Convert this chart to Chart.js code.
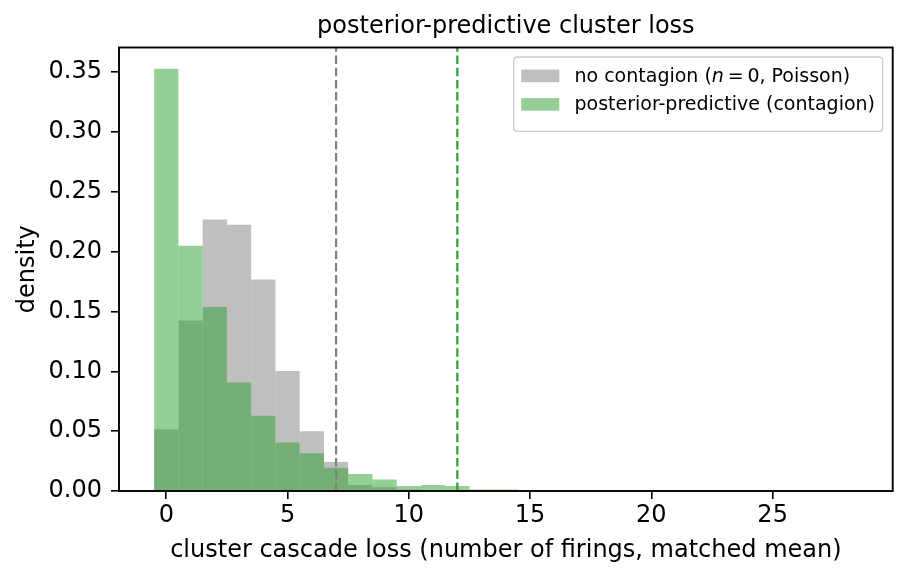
<!DOCTYPE html>
<html>
<head>
<meta charset="utf-8">
<script src="https://cdn.jsdelivr.net/npm/chart.js@4.4.1/dist/chart.umd.min.js"></script>
<style>
  html, body { margin: 0; padding: 0; background: #ffffff; }
  #wrap { width: 908px; height: 578px; }
</style>
</head>
<body>
<div id="wrap"><canvas id="c" width="908" height="578"></canvas></div>
<script>
// ---------------- data ----------------
const binCenters = [0, 1, 2, 3, 4, 5, 6, 7, 8, 9, 10, 11, 12, 13, 14, 15, 16, 17, 18, 19, 20, 21, 22, 23, 24, 25, 26, 27, 28];
const noContagionDensity = [0.0517, 0.1426, 0.2270, 0.2225, 0.1767, 0.1002, 0.0500, 0.0243, 0.0050, 0.0031, 0.0012, 0.0005, 0.0002, 0, 0, 0, 0, 0, 0, 0, 0, 0, 0, 0, 0, 0, 0, 0, 0];
const contagionDensity   = [0.3530, 0.2050, 0.1538, 0.0907, 0.0630, 0.0405, 0.0315, 0.0195, 0.0142, 0.0096, 0.0042, 0.0050, 0.0042, 0.0013, 0.0012, 0.0002, 0.0001, 0.0001, 0.0002, 0.0008, 0, 0, 0, 0, 0, 0, 0, 0, 0.0001];
const xTickValues = [0, 5, 10, 15, 20, 25];
const yTickValues = [0, 0.05, 0.10, 0.15, 0.20, 0.25, 0.30, 0.35];
const refLineNoContagion = 7;
const refLineContagion = 12;
const titleText = 'posterior-predictive cluster loss';
const xLabelText = 'cluster cascade loss (number of firings, matched mean)';
const yLabelText = 'density';
const legendGray = ['no contagion (', 'n', '\u2009=\u20090, Poisson)'];
const legendGreen = 'posterior-predictive (contagion)';

// ---------------- styling ----------------
const FONT = '"DejaVu Sans", "Liberation Sans", sans-serif';
const GRAY_FILL = 'rgba(128,128,128,0.5)';
const GREEN_FILL = 'rgba(44,160,44,0.5)';
const TEXT_SIZE = 24;

const xMin = -1.95, xMax = 29.95;
const yMin = 0, yMax = 0.3707;

const decor = {
  id: 'decor',
  afterDatasetsDraw(chart) {
    const { ctx, chartArea: a, scales } = chart;
    ctx.save();
    const lines = [
      { v: refLineNoContagion, c: '#808080' },
      { v: refLineContagion, c: '#2ca02c' }
    ];
    for (const l of lines) {
      const px = scales.x.getPixelForValue(l.v);
      ctx.beginPath();
      ctx.setLineDash([8.5, 3.7]);
      ctx.lineWidth = 2.2;
      ctx.strokeStyle = l.c;
      ctx.moveTo(px, a.bottom);
      ctx.lineTo(px, a.top);
      ctx.stroke();
    }
    ctx.setLineDash([]);
    ctx.lineWidth = 1.9;
    ctx.strokeStyle = '#000000';
    ctx.strokeRect(a.left, a.top, a.right - a.left, a.bottom - a.top);
    ctx.restore();
  },
  afterDraw(chart) {
    const { ctx, chartArea: a } = chart;
    ctx.save();
    ctx.fillStyle = '#000000';
    ctx.font = TEXT_SIZE + 'px ' + FONT;
    ctx.textAlign = 'center';
    ctx.textBaseline = 'alphabetic';
    ctx.fillText(titleText, (a.left + a.right) / 2, a.top - 14.5);
    ctx.fillText(xLabelText, (a.left + a.right) / 2, 556.5);
    ctx.save();
    ctx.translate(34, (a.top + a.bottom) / 2);
    ctx.rotate(-Math.PI / 2);
    ctx.fillText(yLabelText, 0, 0);
    ctx.restore();

    // legend
    const fs = 19;
    const fontN = fs + 'px ' + FONT;
    const fontI = 'italic ' + fs + 'px ' + FONT;
    ctx.font = fontN;
    const w1a = ctx.measureText(legendGray[0]).width;
    ctx.font = fontI;
    const w1b = ctx.measureText(legendGray[1]).width;
    ctx.font = fontN;
    const w1c = ctx.measureText(legendGray[2]).width;
    const w1 = w1a + w1b + w1c;
    const w2 = ctx.measureText(legendGreen).width;
    const pad = 0.4 * fs, handleLen = 2 * fs, handleGap = 0.8 * fs;
    const bw = pad + handleLen + handleGap + Math.max(w1, w2) + pad;
    const bh = 74.4;
    const bx = a.right - 0.53 * fs - bw;
    const by = a.top + 0.5 * fs;
    const r = 4;
    ctx.beginPath();
    ctx.moveTo(bx + r, by);
    ctx.lineTo(bx + bw - r, by);
    ctx.quadraticCurveTo(bx + bw, by, bx + bw, by + r);
    ctx.lineTo(bx + bw, by + bh - r);
    ctx.quadraticCurveTo(bx + bw, by + bh, bx + bw - r, by + bh);
    ctx.lineTo(bx + r, by + bh);
    ctx.quadraticCurveTo(bx, by + bh, bx, by + bh - r);
    ctx.lineTo(bx, by + r);
    ctx.quadraticCurveTo(bx, by, bx + r, by);
    ctx.closePath();
    ctx.fillStyle = 'rgba(255,255,255,0.8)';
    ctx.fill();
    ctx.lineWidth = 1.4;
    ctx.strokeStyle = '#cccccc';
    ctx.stroke();

    const rows = [by + 18.9, by + 47.4];
    const hx = bx + pad;
    const ph = 12.6;
    ctx.fillStyle = GRAY_FILL;
    ctx.fillRect(hx, rows[0] - ph / 2, handleLen, ph);
    ctx.fillStyle = GREEN_FILL;
    ctx.fillRect(hx, rows[1] - ph / 2, handleLen, ph);

    const tx = hx + handleLen + handleGap;
    ctx.fillStyle = '#000000';
    ctx.textAlign = 'left';
    ctx.textBaseline = 'middle';
    ctx.font = fontN;
    ctx.fillText(legendGray[0], tx, rows[0] + 1);
    ctx.font = fontI;
    ctx.fillText(legendGray[1], tx + w1a, rows[0] + 1);
    ctx.font = fontN;
    ctx.fillText(legendGray[2], tx + w1a + w1b, rows[0] + 1);
    ctx.fillText(legendGreen, tx, rows[1] + 1);
    ctx.restore();
  }
};

const barCommon = {
  barPercentage: 1.0,
  categoryPercentage: 1.0,
  grouped: false,
  borderWidth: 0,
  inflateAmount: 0
};

new Chart(document.getElementById('c'), {
  type: 'bar',
  data: {
    datasets: [
      Object.assign({
        label: 'no contagion (n = 0, Poisson)',
        data: binCenters.map((c, i) => ({ x: c, y: noContagionDensity[i] })),
        backgroundColor: GRAY_FILL,
        order: 2
      }, barCommon),
      Object.assign({
        label: 'posterior-predictive (contagion)',
        data: binCenters.map((c, i) => ({ x: c, y: contagionDensity[i] })),
        backgroundColor: GREEN_FILL,
        order: 1
      }, barCommon)
    ]
  },
  options: {
    responsive: false,
    animation: false,
    devicePixelRatio: 1,
    layout: { padding: { top: 47.5, right: 15.3, left: 0, bottom: 0 } },
    plugins: {
      legend: { display: false },
      title: { display: false },
      tooltip: { enabled: false }
    },
    scales: {
      x: {
        type: 'linear',
        min: xMin,
        max: xMax,
        offset: false,
        afterBuildTicks: s => { s.ticks = xTickValues.map(v => ({ value: v })); },
        afterFit: s => { s.height = 578 - 491; },
        grid: { offset: false, drawOnChartArea: false, drawTicks: true, tickLength: 8, color: '#000000', lineWidth: 1.6 },
        border: { display: false },
        ticks: {
          autoSkip: false,
          maxRotation: 0,
          padding: 2,
          color: '#000000',
          font: { family: FONT, size: TEXT_SIZE },
          callback: v => String(v)
        }
      },
      y: {
        type: 'linear',
        min: yMin,
        max: yMax,
        afterBuildTicks: s => { s.ticks = yTickValues.map(v => ({ value: v })); },
        afterFit: s => { s.width = 119; },
        grid: { drawOnChartArea: false, drawTicks: true, tickLength: 8, color: '#000000', lineWidth: 1.6 },
        border: { display: false },
        ticks: {
          autoSkip: false,
          padding: 9,
          color: '#000000',
          font: { family: FONT, size: TEXT_SIZE },
          callback: v => Number(v).toFixed(2)
        }
      }
    }
  },
  plugins: [decor]
});
</script>
</body>
</html>
